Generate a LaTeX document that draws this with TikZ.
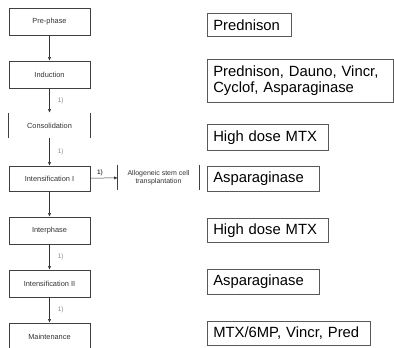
\documentclass[tikz,border=0pt]{standalone}
\usepackage{fontspec}
\setmainfont{Liberation Sans}
\usetikzlibrary{arrows.meta}
\frenchspacing
\begin{document}
\begin{tikzpicture}[x=1pt,y=-1pt,
    phase/.style={draw=black!75,line width=0.6pt,minimum width=81pt,
      minimum height=27pt,inner sep=0pt,text=black!80,
      font=\fontsize{7.4}{8.5}\selectfont},
    openphase/.style={phase,draw=none},
    drug/.style={draw=black!65,line width=0.6pt,anchor=north west,
      align=left,inner xsep=6pt,inner ysep=0pt,text width=#1,
      font=\fontsize{14.8}{16}\selectfont},
    lab/.style={right,inner sep=0pt,xshift=8pt,text=black!45,
      font=\fontsize{6.5}{7}\selectfont}]
      \useasboundingbox (0,0) rectangle (394,348);
      \draw
        (49.5,21.5) node[phase] (pre){Pre-phase}
        (49.5,74.5) node[phase] (ind){Induction}
        (49.5,125.5) node[openphase,minimum height=25pt] (con){Consolidation}
        (49.5,178.5) node[phase,minimum height=25pt] (int1){Intensification I}
        (49.5,230.5) node[phase] (inter){Interphase}
        (49.5,283.5) node[phase] (int2){Intensification II}
        (49.5,336.5) node[phase] (main){Maintenance}
        (158.5,177.5) node[openphase,align=center,minimum width=81pt,
          minimum height=25pt,font=\fontsize{7}{8.5}\selectfont] (allo)
          {Allogeneic stem cell\\ transplantation};
      \draw[black!75,line width=0.6pt]
        (con.north west) -- (con.south west)
        (con.north east) -- (con.south east)
        (allo.north west) -- (allo.south west)
        (allo.north east) -- (allo.south east);
      \draw
        (207,13) node[drug=72pt,minimum height=23pt] (d0){Prednison}
        (207,59) node[drug=174pt,minimum height=43pt] (d1){Prednison, Dauno, Vincr,\\Cyclof, Asparaginase}
        (207,124) node[drug=109pt,minimum height=26pt] (d2){High dose MTX}
        (207,166) node[drug=100pt,minimum height=25pt] (d3){Asparaginase}
        (207,218) node[drug=109pt,minimum height=24pt] (d4){High dose MTX}
        (207,269) node[drug=100pt,minimum height=25pt] (d5){Asparaginase}
        (207,321) node[drug=151pt,minimum height=24pt] (d6){MTX/6MP, Vincr, Pred};
      \begin{scope}[-{Latex[length=3.5pt,width=3pt]},black!80,line width=0.5pt]
        \draw (pre) to (ind);
        \draw (ind) to node[lab]{1)} (con);
        \draw (con) to node[lab]{1)} (int1);
        \draw (int1) to node[above,pos=0.35,inner sep=2pt,text=black,
          font=\fontsize{6.5}{7}\selectfont]{1)} (allo);
        \draw (int1) to (inter);
        \draw (inter) to node[lab]{1)} (int2);
        \draw (int2) to node[lab]{1)} (main);
      \end{scope}
    \end{tikzpicture}
\end{document}
